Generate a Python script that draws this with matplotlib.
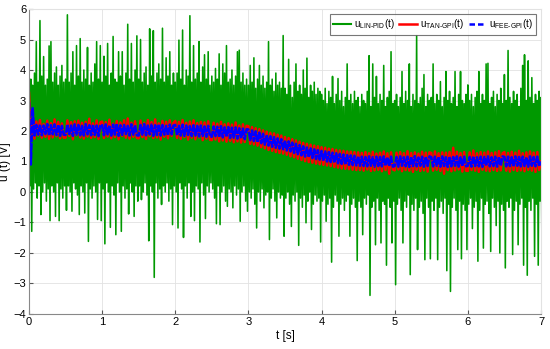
import matplotlib
matplotlib.use('Agg')
import matplotlib.pyplot as plt
import numpy as np

plt.rcParams['font.family'] = ['Liberation Sans', 'DejaVu Sans']
plt.rcParams['mathtext.fontset'] = 'custom'
plt.rcParams['mathtext.rm'] = 'Liberation Sans'
plt.rcParams['mathtext.it'] = 'Liberation Sans'
plt.rcParams['path.simplify'] = False

# sample step of the traces [s]
dt = 0.025

# u_LIN-PID(t), green: upper and lower envelope per step, rows of 0.5 s
lin_pid_hi = [
    4.2, 3.7, 3.5, 3.9, 4.93, 3.6, 5.62, 3.8, 4.44, 3.5, 3.7, 4.79, 4.93, 3.6, 3.9, 4.1, 3.5, 3.8, 4.15, 3.6,
    3.7, 5.81, 3.6, 3.9, 4.6, 3.5, 4.8, 3.8, 5.03, 3.6, 4.0, 3.7, 4.74, 3.5, 3.9, 3.6, 4.2, 4.93, 3.7, 4.8,
    3.6, 4.45, 3.8, 4.87, 3.5, 3.9, 5.1, 3.7, 3.6, 4.6, 3.8, 4.6, 3.5, 3.9, 5.5, 3.7, 4.87, 3.6, 4.0, 5.12,
    3.7, 5.0, 3.6, 3.9, 4.1, 3.5, 5.35, 3.8, 5.29, 3.6, 3.9, 4.2, 3.7, 5.37, 3.6, 4.4, 3.8, 4.6, 3.5, 3.9,
    3.6, 3.9, 4.98, 3.7, 5.31, 3.5, 4.0, 3.8, 5.78, 3.6, 4.8, 3.7, 3.9, 4.93, 3.6, 4.1, 4.5, 3.7, 4.6, 3.5,
    3.8, 3.6, 4.05, 3.7, 4.53, 3.5, 4.2, 3.9, 4.8, 3.6, 3.7, 4.0, 3.5, 3.8, 4.6, 4.65, 3.6, 3.9, 3.5, 3.7,
    3.5, 4.15, 3.6, 4.4, 3.4, 3.7, 4.15, 3.5, 3.8, 3.4, 3.6, 4.93, 3.5, 3.7, 3.3, 3.9, 3.5, 3.6, 3.4, 5.13,
    3.4, 3.2, 4.35, 3.5, 3.1, 3.6, 4.2, 3.3, 3.5, 3.2, 4.0, 3.4, 4.39, 3.1, 3.5, 3.3, 3.6, 3.2, 3.4, 3.3,
    3.2, 3.0, 3.4, 2.9, 3.3, 3.1, 3.79, 2.9, 3.2, 3.72, 3.0, 3.3, 2.8, 3.1, 4.2, 3.0, 3.2, 2.9, 3.3, 3.0,
    3.1, 2.8, 3.2, 3.0, 2.9, 3.3, 4.47, 2.8, 4.2, 3.1, 3.79, 2.9, 3.2, 3.0, 4.15, 2.8, 3.1, 3.3, 4.6, 2.9,
    3.0, 3.2, 2.8, 3.1, 3.95, 2.9, 3.3, 3.0, 4.2, 2.8, 3.2, 3.0, 5.13, 2.9, 3.1, 3.4, 3.85, 2.8, 3.2, 3.0,
    3.1, 4.2, 2.9, 3.2, 3.0, 3.62, 2.8, 3.1, 3.95, 3.0, 3.3, 2.9, 3.1, 3.95, 2.8, 3.2, 3.95, 3.0, 2.9, 3.2,
    3.51, 3.0, 3.2, 2.8, 3.1, 3.3, 3.95, 2.9, 3.2, 3.0, 4.2, 4.22, 2.9, 3.1, 3.3, 2.8, 3.2, 3.0, 3.4, 2.9,
    3.85, 3.0, 4.64, 3.1, 2.9, 3.3, 3.0, 3.2, 2.8, 3.4, 4.15, 4.5, 3.0, 4.3, 3.1, 3.75, 2.9, 3.2, 3.0, 3.3,
    3.1]
lin_pid_lo = [
    0.2, -1.29, 0.1, 0.3, -0.2, 0.2, -0.74, 0.0, 0.3, -0.3, 0.1, -0.94, 0.2, 0.0, -0.8, 0.3, -0.94, 0.1, -0.2, 0.2,
    -0.6, 0.2, 0.0, -0.63, 0.3, 0.1, -0.1, -0.74, 0.2, 0.0, -0.69, 0.3, -1.62, 0.1, -0.2, 0.2, 0.0, -0.9, 0.3, -0.94,
    0.1, -1.7, 0.3, 0.0, -1.16, 0.2, -0.1, -1.4, 0.3, 0.0, -1.29, 0.2, -0.2, 0.1, -0.72, 0.3, 0.0, -0.8, 0.2, -0.3,
    0.2, -0.25, 0.0, 0.3, -0.1, -1.6, 0.2, 0.0, -2.8, 0.3, -0.2, 0.1, -0.41, 0.2, 0.0, 0.3, -0.3, 0.1, -1.07, 0.2,
    0.0, -1.18, 0.3, 0.1, -1.49, 0.2, -0.2, 0.3, -0.8, 0.0, -0.94, 0.2, 0.1, -1.64, 0.3, -0.1, -0.87, 0.2, 0.0, 0.3,
    0.1, -0.2, -1.04, 0.2, -1.07, 0.0, 0.2, -0.3, -0.47, 0.1, 0.0, -0.52, 0.2, -0.1, 0.1, -0.96, 0.0, 0.2, -0.3, -0.63,
    0.0, -0.2, 0.1, -0.4, -1.18, 0.0, -0.3, 0.1, -0.52, -0.1, 0.0, -1.56, -0.2, 0.1, -0.3, -0.85, 0.0, -0.2, -0.1, -1.45,
    -0.2, 0.0, -0.4, -1.13, -0.1, -0.3, 0.0, -1.75, -0.2, -0.5, -0.1, -1.01, -0.3, 0.0, -1.23, -0.4, -0.1, -0.3, -0.2, -1.64,
    -0.3, -0.1, -0.96, -0.4, -0.2, -2.3, -0.5, -0.1, -0.3, -1.45, -0.4, -0.2, -0.6, -0.3, -0.1, -1.45, -0.4, -0.2, -0.5, -2.25,
    -0.3, -0.5, -1.4, -0.2, -0.4, -0.1, -3.39, -0.5, -0.3, -1.73, -0.2, -0.6, -1.67, -0.3, -0.4, -2.4, -0.2, -0.5, -1.67, -0.3,
    -3.04, -0.4, -0.2, -0.6, -1.67, -0.3, -0.5, -0.1, -2.71, -0.4, -0.6, -0.2, -1.89, -0.5, -0.3, -0.7, -2.22, -0.2, -0.5, -2.19,
    -0.3, -0.6, -0.2, -2.22, -0.5, -0.3, -0.7, -0.2, -2.58, -0.4, -3.26, -0.5, -0.2, -0.6, -1.89, -0.3, -2.19, -0.4, -0.6, -1.89,
    -0.4, -0.2, -1.2, -0.5, -0.3, -2.27, -0.6, -0.2, -1.84, -0.4, -0.3, -0.7, -1.95, -0.2, -0.5, -1.1, -0.3, -2.0, -0.4, -0.6,
    -2.49, -0.3, -0.5, -0.2, -2.05, -0.6, -0.3, -1.73, -0.4, -0.2, -2.4, -0.5, -2.73, -0.3, -0.6, -0.2, -2.11, -0.4, -2.4, -0.3,
    -1.73]

# u_TAN-GPI(t), red
u_tan_gpi = [
    3.25, 1.72, 2.38, 1.75, 2.31, 1.85, 2.36, 1.78, 2.23, 1.81, 2.34, 1.74, 2.26, 1.79, 2.38, 1.83, 2.30, 1.76, 2.25, 1.78,
    1.78, 2.35, 1.84, 2.29, 1.73, 2.32, 1.86, 2.34, 1.79, 2.27, 1.75, 2.30, 1.82, 2.40, 1.77, 2.25, 1.80, 2.35, 1.74, 2.28,
    2.31, 1.77, 2.29, 1.82, 2.37, 1.76, 2.24, 1.80, 2.33, 1.73, 2.28, 1.84, 2.35, 1.78, 2.41, 1.75, 2.27, 1.81, 2.32, 1.77,
    1.76, 2.34, 1.80, 2.27, 1.74, 2.36, 1.83, 2.29, 1.77, 2.38, 1.79, 2.25, 1.72, 2.33, 1.81, 2.30, 1.76, 2.35, 1.84, 2.26,
    2.33, 1.77, 2.30, 1.74, 2.36, 1.80, 2.27, 1.72, 2.31, 1.78, 2.35, 1.73, 2.26, 1.79, 2.30, 1.70, 2.28, 1.75, 2.32, 1.71,
    1.70, 2.27, 1.72, 2.24, 1.66, 2.30, 1.69, 2.22, 1.65, 2.25, 1.68, 2.21, 1.63, 2.28, 1.66, 2.18, 1.62, 2.22, 1.64, 2.17,
    2.16, 1.58, 2.13, 1.56, 2.09, 1.52, 2.06, 1.47, 2.02, 1.43, 1.98, 1.38, 1.94, 1.35, 1.92, 1.31, 1.88, 1.28, 1.85, 1.26,
    1.80, 1.22, 1.77, 1.17, 1.73, 1.14, 1.69, 1.09, 1.65, 1.05, 1.61, 1.01, 1.58, 0.98, 1.55, 0.96, 1.52, 0.93, 1.50, 0.91,
    1.47, 0.89, 1.45, 0.87, 1.42, 0.85, 1.41, 0.82, 1.38, 0.80, 1.36, 0.77, 1.35, 0.76, 1.33, 0.75, 1.32, 0.73, 1.31, 0.72,
    1.30, 0.72, 1.28, 0.70, 1.31, 0.74, 1.27, 0.69, 1.32, 0.71, 1.26, 0.73, 1.29, 0.68, 1.33, 0.72, 1.27, 0.60, 1.30, 0.74,
    0.71, 1.29, 0.74, 1.31, 0.68, 1.27, 0.72, 1.34, 0.70, 1.28, 0.66, 1.30, 0.73, 1.26, 0.69, 1.32, 0.71, 1.29, 0.67, 1.30,
    1.28, 0.70, 1.33, 0.73, 1.27, 0.69, 1.30, 0.60, 1.29, 0.72, 1.31, 0.68, 1.45, 0.71, 1.32, 0.74, 1.28, 0.67, 1.31, 0.70,
    0.69, 1.30, 0.72, 1.36, 0.70, 1.27, 0.66, 1.31, 0.73, 1.29, 0.70, 1.33, 0.68, 1.28, 0.72, 1.30, 0.69, 1.34, 0.71, 1.27,
    1.31, 0.70, 1.28, 0.67, 1.32, 0.72, 1.29, 0.69, 1.35, 0.71, 1.27, 0.68, 1.30, 0.73, 1.33, 0.70, 1.29, 0.66, 1.31, 0.72,
    1.0]

# u_FEE-GPI(t), blue dashed
u_fee_gpi = [
    2.95, 0.90, 2.75, 1.85, 2.20, 1.88, 2.21, 1.86, 2.18, 1.90, 2.23, 1.85, 2.19, 1.89, 2.22, 1.87, 2.20, 1.84, 2.17, 1.88,
    1.87, 2.21, 1.90, 2.18, 1.84, 2.22, 1.88, 2.20, 1.86, 2.17, 1.85, 2.23, 1.89, 2.19, 1.86, 2.21, 1.87, 2.18, 1.83, 2.20,
    2.19, 1.86, 2.22, 1.89, 2.18, 1.85, 2.21, 1.88, 2.24, 1.84, 2.19, 1.87, 2.20, 1.90, 2.17, 1.85, 2.22, 1.88, 2.19, 1.86,
    1.85, 2.20, 1.88, 2.23, 1.86, 2.18, 1.89, 2.21, 1.84, 2.19, 1.87, 2.22, 1.85, 2.20, 1.88, 2.17, 1.86, 2.21, 1.89, 2.18,
    2.20, 1.86, 2.17, 1.85, 2.21, 1.84, 2.18, 1.87, 2.16, 1.83, 2.19, 1.85, 2.17, 1.82, 2.18, 1.84, 2.15, 1.81, 2.17, 1.83,
    1.81, 2.15, 1.83, 2.14, 1.80, 2.16, 1.79, 2.12, 1.81, 2.13, 1.77, 2.11, 1.78, 2.12, 1.75, 2.09, 1.76, 2.08, 1.73, 2.06,
    2.05, 1.70, 2.02, 1.67, 1.99, 1.63, 1.95, 1.60, 1.91, 1.55, 1.87, 1.52, 1.83, 1.48, 1.80, 1.45, 1.76, 1.42, 1.73, 1.40,
    1.69, 1.36, 1.66, 1.33, 1.62, 1.28, 1.58, 1.24, 1.54, 1.20, 1.50, 1.16, 1.46, 1.14, 1.43, 1.11, 1.40, 1.08, 1.37, 1.06,
    1.35, 1.02, 1.33, 1.00, 1.31, 0.98, 1.29, 0.96, 1.27, 0.94, 1.25, 0.92, 1.23, 0.90, 1.21, 0.89, 1.20, 0.88, 1.19, 0.87,
    1.17, 0.86, 1.16, 0.85, 1.15, 0.84, 1.17, 0.86, 1.14, 0.83, 1.16, 0.85, 1.15, 0.84, 1.17, 0.86, 1.14, 0.85, 1.16, 0.83,
    0.85, 1.15, 0.83, 1.17, 0.86, 1.14, 0.84, 1.16, 0.82, 1.15, 0.85, 1.18, 0.84, 1.13, 0.86, 1.16, 0.83, 1.15, 0.85, 1.17,
    1.14, 0.84, 1.16, 0.86, 1.15, 0.83, 1.17, 0.85, 1.14, 0.82, 1.16, 0.84, 1.15, 0.86, 1.17, 0.83, 1.14, 0.85, 1.16, 0.84,
    0.86, 1.15, 0.83, 1.17, 0.85, 1.14, 0.84, 1.16, 0.82, 1.15, 0.86, 1.17, 0.84, 1.14, 0.85, 1.16, 0.83, 1.15, 0.86, 1.17,
    1.15, 0.84, 1.16, 0.85, 1.14, 0.83, 1.17, 0.86, 1.15, 0.84, 1.16, 0.85, 1.14, 0.83, 1.17, 0.86, 1.15, 0.84, 1.16, 0.85,
    1.0]

labels = [r'u$_{\mathrm{LIN‐PID}}$(t)', r'u$_{\mathrm{TAN‐GPI}}$(t)', r'u$_{\mathrm{FEE‐GPI}}$(t)']
xticks = [0, 1, 2, 3, 4, 5, 6, 7]
yticks = [-4, -3, -2, -1, 0, 1, 2, 3, 4, 5, 6]

t = np.arange(len(u_tan_gpi)) * dt
# green trace: top and bottom of each step, one after the other
u_lin_pid = np.column_stack([lin_pid_hi, lin_pid_lo]).ravel()
t_lin = np.arange(len(u_lin_pid)) * dt / 2

fig = plt.figure(figsize=(5.5, 3.49), dpi=100)
ax = fig.add_axes([0.0527, 0.1003, 0.9309, 0.8739])

ax.plot(t_lin, u_lin_pid, color='#009900', lw=1.15, label=labels[0])
ax.plot(t, u_tan_gpi, color='#ff0000', lw=1.8, label=labels[1])
ax.plot(t, u_fee_gpi, color='#0000ff', lw=1.8, dashes=(3, 0.4), label=labels[2])

ax.set_xlim(0, 7)
ax.set_ylim(-4, 6)
ax.set_xticks(xticks)
ax.set_yticks(yticks)
ax.tick_params(direction='in', labelsize=8, length=3, color='#555555', pad=2)
ax.grid(True, color='#e2e2e2', lw=0.6)
ax.set_axisbelow(True)
for s in ['left', 'bottom']:
    ax.spines[s].set_color('#888888')
for s in ['top', 'right']:
    ax.spines[s].set_color('#e2e2e2')

ax.set_xlabel('t [s]', fontsize=8.5, labelpad=2)
ax.set_ylabel('u (t) [V]', fontsize=8.5)
ax.yaxis.set_label_coords(-0.036, 0.5)

leg = ax.legend(loc='upper right', ncol=3, fontsize=7, frameon=True, fancybox=False,
                handlelength=1.8, handletextpad=0.3, columnspacing=0.5,
                borderpad=0.35, borderaxespad=0.5)
leg.get_frame().set_edgecolor('#555555')
leg.get_frame().set_linewidth(0.8)
leg.legend_handles[0].set_linewidth(1.5)
leg.legend_handles[2].set_dashes((2.2, 1.2))

fig.savefig('out.png', dpi=100)
